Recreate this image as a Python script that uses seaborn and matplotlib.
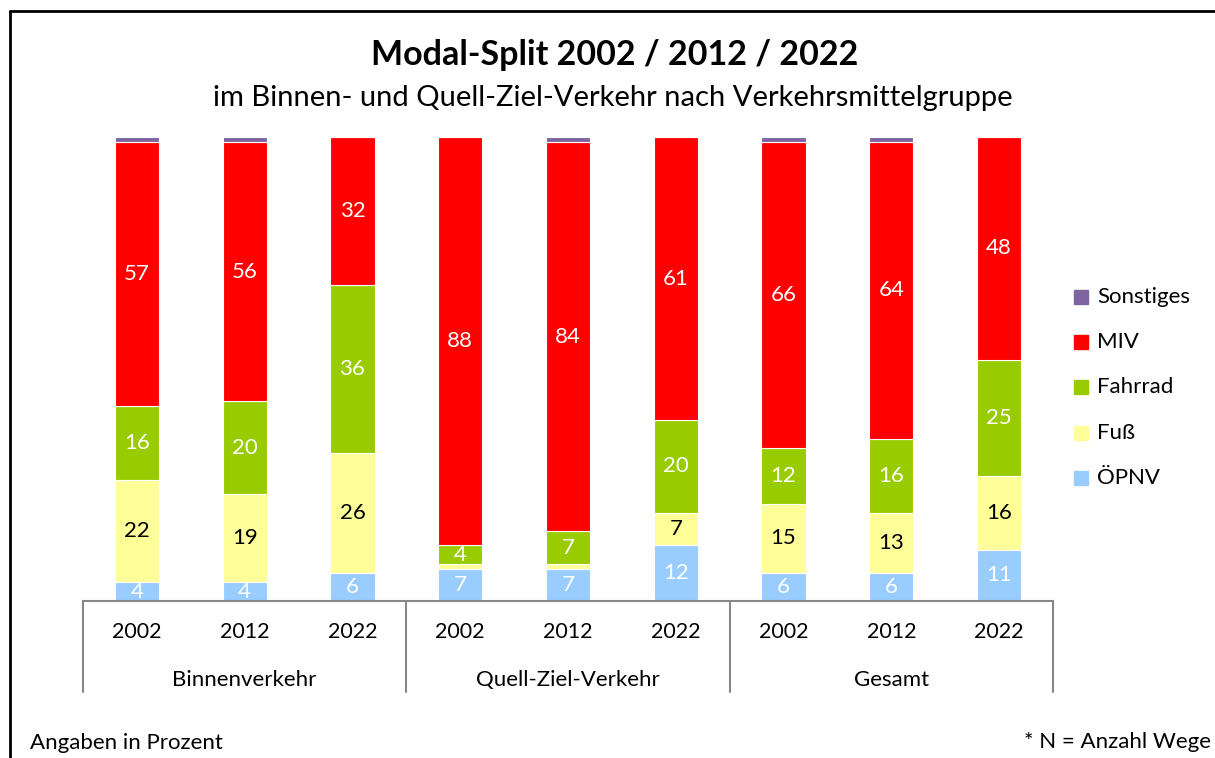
import numpy as np
import pandas as pd
import matplotlib
matplotlib.use("Agg")
import matplotlib.pyplot as plt
from matplotlib.lines import Line2D
from matplotlib.patches import Rectangle
import seaborn as sns

# --- data (Prozent) ---
groups = ["Binnenverkehr", "Quell-Ziel-Verkehr", "Gesamt"]
years = ["2002", "2012", "2022"]
modes = ["Sonstiges", "MIV", "Fahrrad", "Fuß", "ÖPNV"]  # top -> bottom

oepnv = [4, 4, 6, 7, 7, 12, 6, 6, 11]
fuss = [22, 19, 26, 1, 1, 7, 15, 13, 16]
fahrrad = [16, 20, 36, 4, 7, 20, 12, 16, 25]
miv = [57, 56, 32, 88, 84, 61, 66, 64, 48]
sonstiges = [1, 1, 0, 0, 1, 0, 1, 1, 0]

colors = {"Sonstiges": "#8064A2", "MIV": "#FF0000", "Fahrrad": "#99CC00",
          "Fuß": "#FFFF99", "ÖPNV": "#99CCFF"}
label_colors = {"MIV": "white", "Fahrrad": "white", "Fuß": "black", "ÖPNV": "white"}

values = {"ÖPNV": oepnv, "Fuß": fuss, "Fahrrad": fahrrad, "MIV": miv, "Sonstiges": sonstiges}

rows = []
for m in modes:
    for i, v in enumerate(values[m]):
        rows.append({"pos": i, "mode": m, "value": v})
df = pd.DataFrame(rows)

sns.set_style("white")
plt.rcParams["font.family"] = ["Lato", "DejaVu Sans"]
plt.rcParams["text.color"] = "black"

W, H = 1215, 758
fig = plt.figure(figsize=(W / 100, H / 100), dpi=100)
ax = fig.add_axes([83 / W, 1 - 601 / H, 970 / W, 464 / H])

sns.histplot(data=df, x="pos", weights="value", hue="mode", hue_order=modes,
             multiple="stack", discrete=True, shrink=0.41, palette=colors,
             alpha=1, edgecolor="white", linewidth=0.8, legend=False, ax=ax)

ax.set_xlim(-0.5, 8.5)
ax.set_ylim(0, 100)
ax.set_xticks([])
ax.set_yticks([])
ax.set_xlabel("")
ax.set_ylabel("")
for s in ["top", "right", "left"]:
    ax.spines[s].set_visible(False)
ax.spines["bottom"].set_color("#888888")
ax.spines["bottom"].set_linewidth(1.5)

# value labels
bottom = np.zeros(9)
for m in ["ÖPNV", "Fuß", "Fahrrad", "MIV", "Sonstiges"]:
    v = np.array(values[m], dtype=float)
    if m in label_colors:
        for i in range(9):
            if v[i] >= 3:
                ax.text(i, bottom[i] + v[i] / 2, f"{int(v[i])}", ha="center", va="center",
                        fontsize=16, color=label_colors[m])
    bottom += v

# category axis
tr = ax.get_xaxis_transform()
for x in [-0.5, 2.5, 5.5, 8.5]:
    ax.add_line(Line2D([x, x], [0, -91 / 464], transform=tr, color="#888888",
                       lw=1.5, clip_on=False))
for i in range(9):
    ax.text(i, -31 / 464, years[i % 3], transform=tr, ha="center", va="center", fontsize=15.5)
for g, name in enumerate(groups):
    ax.text(3 * g + 1, -79 / 464, name, transform=tr, ha="center", va="center", fontsize=16)

# titles
fig.text(615 / W, 1 - 55 / H, "Modal-Split 2002 / 2012 / 2022", ha="center", va="center",
         fontsize=24.5, fontweight="bold")
fig.text(613 / W, 1 - 98 / H, "im Binnen- und Quell-Ziel-Verkehr nach Verkehrsmittelgruppe",
         ha="center", va="center", fontsize=21)

# legend
for k, m in enumerate(modes):
    y = 297 + 45.2 * k
    fig.add_artist(Rectangle((1074 / W, 1 - (y + 7) / H), 14 / W, 14 / H,
                             transform=fig.transFigure, color=colors[m]))
    fig.text(1097 / W, 1 - y / H, m, ha="left", va="center", fontsize=16)

# notes
fig.text(30 / W, 1 - 743 / H, "Angaben in Prozent", ha="left", va="center", fontsize=16)
fig.text(1211 / W, 1 - 742 / H, "* N = Anzahl Wege", ha="right", va="center", fontsize=16)

# border
fig.add_artist(Line2D([10 / W, 10 / W], [0, 1 - 11 / H], transform=fig.transFigure,
                      color="black", lw=2))
fig.add_artist(Line2D([10 / W, 1], [1 - 11 / H, 1 - 11 / H], transform=fig.transFigure,
                      color="black", lw=2))

fig.savefig("out.png", dpi=100)
